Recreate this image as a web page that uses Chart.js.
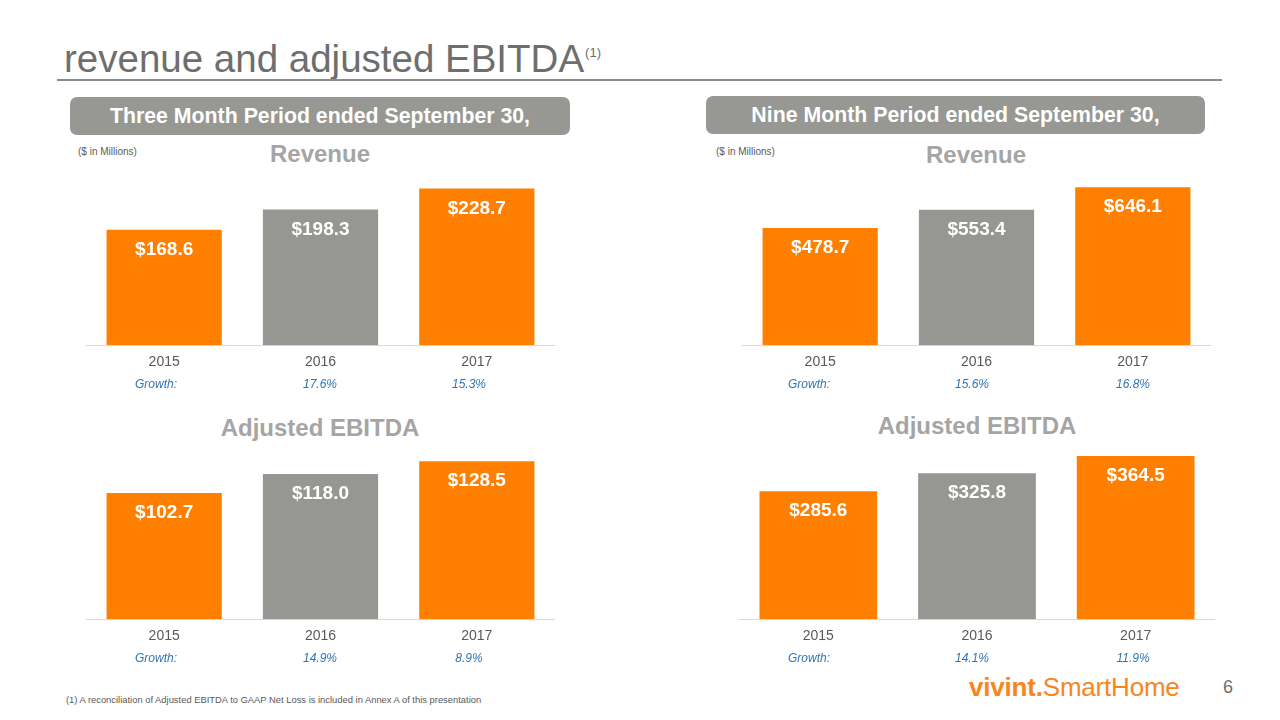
<!DOCTYPE html>
<html>
<head>
<meta charset="utf-8">
<script src="https://cdn.jsdelivr.net/npm/chart.js@4.4.1/dist/chart.umd.min.js"></script>
<style>
  html, body { margin:0; padding:0; background:#fff; }
  body { width:1280px; height:720px; position:relative; overflow:hidden; font-family:"Liberation Sans", Arial, sans-serif; }
  .abs { position:absolute; white-space:nowrap; }
  #title { left:64px; top:37px; font-size:38.5px; color:#6e6e6e; line-height:44px; }
  #title sup { font-size:13px; position:relative; top:-6px; vertical-align:top; margin-left:1px; }
  #rule { left:57px; top:79px; width:1165px; height:2px; background:#8c8c8c; }
  .hdr { height:38px; background:#979893; border-radius:7px; color:#fff; font-weight:bold; font-size:21.3px; line-height:38px; text-align:center; }
  .units { font-size:10px; color:#595959; }
  .ctitle { font-size:24px; font-weight:bold; color:#a5a5a5; transform:translateX(-50%); }
  .growth { font-size:12px; font-style:italic; color:#2e75b6; }
  .gc { transform:translateX(-50%); }
  .cbox { position:absolute; }
  #foot { left:66px; top:694px; font-size:9.4px; color:#595959; }
  #logo { left:969px; top:672px; font-size:26px; color:#f7861e; letter-spacing:-0.2px; }
  #page { left:1223px; top:677px; font-size:18px; color:#6e6e6e; }
</style>
</head>
<body>
<div id="title" class="abs">revenue and adjusted EBITDA<sup>(1)</sup></div>
<div id="rule" class="abs"></div>

<div class="abs hdr" style="left:70px;top:97px;width:500px;">Three Month Period ended September 30,</div>
<div class="abs hdr" style="left:706px;top:96px;width:499px;">Nine Month Period ended September 30,</div>

<div class="abs units" style="left:78px;top:146px;">($ in Millions)</div>
<div class="abs units" style="left:716px;top:146px;">($ in Millions)</div>

<div class="abs ctitle" style="left:320px;top:140px;">Revenue</div>
<div class="abs ctitle" style="left:976px;top:141px;">Revenue</div>
<div class="abs ctitle" style="left:320px;top:414px;">Adjusted EBITDA</div>
<div class="abs ctitle" style="left:977px;top:412px;">Adjusted EBITDA</div>

<div class="cbox" style="left:86px;top:174px;width:469px;height:206px;"><canvas id="c1"></canvas></div>
<div class="cbox" style="left:742px;top:174px;width:469px;height:206px;"><canvas id="c2"></canvas></div>
<div class="cbox" style="left:86px;top:447px;width:469px;height:207px;"><canvas id="c3"></canvas></div>
<div class="cbox" style="left:739px;top:440px;width:476px;height:214px;"><canvas id="c4"></canvas></div>

<div id="g1"></div><div id="g2"></div><div id="g3"></div><div id="g4"></div>

<div id="foot" class="abs">(1) A reconciliation of Adjusted EBITDA to GAAP Net Loss is included in Annex A of this presentation</div>
<div id="logo" class="abs"><b>vivint.</b>SmartHome</div>
<div id="page" class="abs">6</div>

<script>
const years = ["2015", "2016", "2017"];
const revenue3M = [168.6, 198.3, 228.7];
const revenue9M = [478.7, 553.4, 646.1];
const ebitda3M = [102.7, 118.0, 128.5];
const ebitda9M = [285.6, 325.8, 364.5];
const growthRevenue3M = ["17.6%", "15.3%"];
const growthRevenue9M = ["15.6%", "16.8%"];
const growthEbitda3M = ["14.9%", "8.9%"];
const growthEbitda9M = ["14.1%", "11.9%"];

const ORANGE = "#ff8000";
const GREY = "#969792";
const barColors = [ORANGE, GREY, ORANGE];

const valueLabels = {
  id: "valueLabels",
  afterDatasetsDraw(chart) {
    const ctx = chart.ctx;
    const meta = chart.getDatasetMeta(0);
    const data = chart.data.datasets[0].data;
    ctx.save();
    ctx.fillStyle = "#ffffff";
    ctx.font = "bold 19px 'Liberation Sans', Arial, sans-serif";
    ctx.textAlign = "center";
    ctx.textBaseline = "middle";
    meta.data.forEach((bar, i) => {
      ctx.fillText("$" + data[i].toFixed(1), bar.x, bar.y + 20);
    });
    ctx.restore();
  }
};

function makeChart(id, values, yMax, barPct) {
  new Chart(document.getElementById(id), {
    type: "bar",
    data: { labels: years, datasets: [{ data: values, backgroundColor: barColors, borderWidth: 0, barPercentage: barPct, categoryPercentage: 1 }] },
    options: {
      responsive: true, maintainAspectRatio: false, animation: false,
      layout: { padding: 0 },
      plugins: { legend: { display: false }, tooltip: { enabled: false } },
      scales: {
        x: {
          grid: { display: false, drawTicks: false },
          border: { display: true, color: "#d9d9d9", width: 1 },
          ticks: { color: "#595959", font: { size: 14, family: "'Liberation Sans', Arial, sans-serif" }, padding: 9 }
        },
        y: { display: false, min: 0, max: yMax }
      }
    },
    plugins: [valueLabels]
  });
}

makeChart("c1", revenue3M, 250, 0.737);
makeChart("c2", revenue9M, 700, 0.737);
makeChart("c3", ebitda3M, 140, 0.737);
makeChart("c4", ebitda9M, 400, 0.742);

function growthRow(id, top, gx, xs, vals) {
  const el = document.getElementById(id);
  let html = `<div class="abs growth" style="left:${gx}px;top:${top}px;">Growth:</div>`;
  vals.forEach((v, i) => {
    html += `<div class="abs growth gc" style="left:${xs[i]}px;top:${top}px;">${v}</div>`;
  });
  el.innerHTML = html;
}
growthRow("g1", 377, 135, [320, 469], growthRevenue3M);
growthRow("g2", 377, 788, [972, 1133], growthRevenue9M);
growthRow("g3", 651, 135, [320, 469], growthEbitda3M);
growthRow("g4", 651, 788, [972, 1133], growthEbitda9M);
</script>
</body>
</html>
